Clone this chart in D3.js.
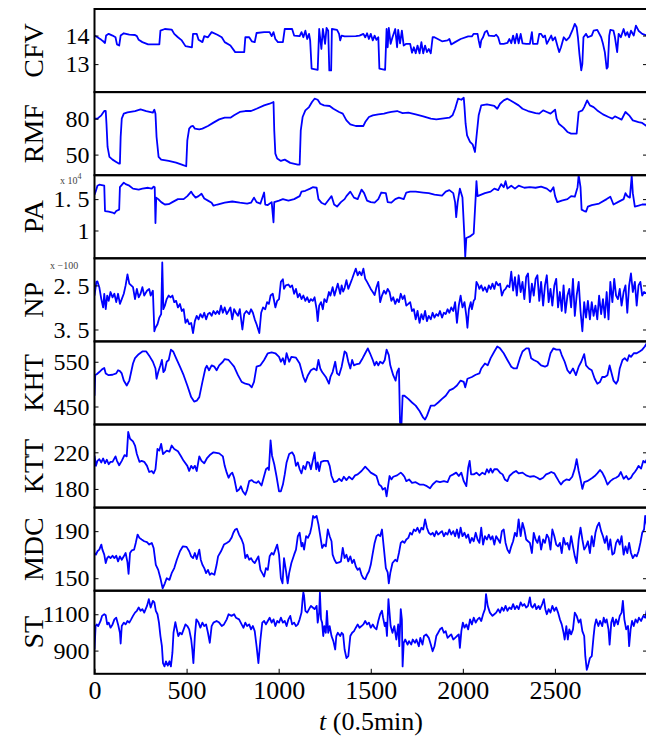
<!DOCTYPE html>
<html>
<head>
<meta charset="utf-8">
<script src="https://cdn.jsdelivr.net/npm/d3@7"></script>
<style>
  body { margin: 0; background: #fff; }
  svg { display: block; }
  text { font-family: "Liberation Serif", "DejaVu Serif", serif; }
</style>
</head>
<body>
<svg id="chart" width="646" height="737"></svg>
<script>
// each series: [t, value], t in units of 0.5 min
const cfv = [[0,14.00],[16,13.94],[37,13.85],[47,13.80],[57,13.74],[63,14.00],[77,14.06],[98,14.00],[114,13.94],[122,13.69],[134,13.65],[142,14.00],[159,14.08],[189,14.03],[220,14.02],[230,13.98],[240,13.85],[260,13.77],[291,13.69],[352,13.69],[358,14.17],[382,14.23],[419,14.21],[433,14.06],[453,13.94],[474,13.83],[494,13.63],[529,13.59],[535,14.06],[555,14.06],[565,13.85],[586,13.77],[596,13.98],[616,13.94],[636,14.12],[667,14.03],[691,13.94],[707,13.77],[738,13.65],[764,13.42],[813,13.42],[819,13.94],[840,13.94],[854,13.80],[870,13.77],[880,14.09],[921,14.12],[951,14.12],[962,13.98],[972,14.12],[982,13.88],[996,13.77],[1023,13.77],[1033,14.23],[1073,14.23],[1084,14.00],[1114,13.98],[1124,14.12],[1134,13.94],[1145,14.17],[1155,13.88],[1165,14.06],[1171,13.83],[1179,12.84],[1212,12.80],[1220,14.23],[1232,13.53],[1240,14.23],[1252,13.71],[1260,14.27],[1269,14.17],[1275,12.78],[1285,12.78],[1289,14.23],[1317,14.20],[1328,14.06],[1334,13.83],[1342,14.00],[1358,13.97],[1419,13.98],[1439,14.00],[1460,14.06],[1470,13.94],[1480,14.08],[1490,13.88],[1500,14.06],[1511,13.83],[1521,14.00],[1531,13.85],[1541,13.94],[1547,12.84],[1578,12.80],[1586,14.23],[1592,13.59],[1598,14.27],[1608,13.71],[1618,13.94],[1633,14.23],[1643,13.59],[1649,14.20],[1659,13.73],[1669,14.17],[1679,13.65],[1693,13.71],[1714,13.71],[1724,13.40],[1734,13.59],[1744,13.38],[1754,13.65],[1765,13.38],[1775,13.77],[1785,13.38],[1795,13.65],[1805,13.42],[1815,13.53],[1826,13.38],[1836,13.94],[1846,13.94],[1887,13.80],[1917,13.83],[1927,13.88],[1937,13.69],[1958,13.77],[1988,13.88],[2029,13.97],[2049,13.97],[2059,14.06],[2080,14.06],[2086,13.83],[2094,13.59],[2100,13.83],[2110,13.94],[2120,14.12],[2131,14.17],[2141,14.00],[2171,13.98],[2181,14.03],[2192,13.94],[2202,13.71],[2222,13.71],[2242,13.74],[2253,13.88],[2263,13.73],[2273,14.00],[2283,13.73],[2293,14.06],[2303,13.73],[2314,14.06],[2324,13.73],[2344,13.71],[2364,13.71],[2375,14.12],[2381,13.71],[2405,13.71],[2415,14.06],[2425,14.06],[2436,13.94],[2446,14.00],[2456,13.71],[2466,13.83],[2480,14.00],[2488,13.83],[2501,13.94],[2513,13.65],[2523,13.42],[2533,13.59],[2548,13.94],[2562,13.83],[2578,13.94],[2594,14.17],[2608,14.41],[2618,14.29],[2625,13.94],[2633,13.36],[2643,12.78],[2649,13.01],[2655,13.94],[2669,14.06],[2679,13.94],[2700,14.00],[2710,14.17],[2730,14.20],[2751,13.94],[2761,13.71],[2771,13.42],[2781,12.84],[2787,12.90],[2795,14.00],[2801,14.20],[2818,14.17],[2826,13.94],[2838,13.42],[2846,14.06],[2858,13.94],[2873,14.23],[2883,14.00],[2893,14.12],[2903,13.94],[2913,14.17],[2928,14.00],[2940,14.35],[2954,14.17],[2974,14.06],[3000,14.00]];

const rmf = [[0,80],[16,80],[37,82.8],[53,86.4],[61,86.4],[65,75.8],[71,56.4],[81,48.1],[98,45.8],[118,43.9],[132,42.5],[138,42.5],[142,64.7],[148,80],[159,84.2],[179,85.3],[220,86.4],[250,87.8],[281,86.4],[317,85.0],[325,87.5],[331,84.2],[337,64.7],[348,48.1],[362,45.8],[403,44.7],[443,43.3],[474,41.7],[498,40.3],[504,61.9],[514,71.7],[525,73.6],[535,73.9],[545,71.7],[569,71.1],[586,71.7],[616,73.9],[646,76.7],[677,79.4],[707,80.8],[738,80.8],[758,82.8],[789,85.6],[819,86.4],[850,86.4],[880,88.3],[921,91.1],[951,92.5],[972,93.9],[976,70.3],[982,50.8],[992,46.7],[1012,44.7],[1033,45.8],[1063,43.1],[1104,41.7],[1114,41.7],[1120,70.3],[1130,81.4],[1145,86.9],[1165,89.7],[1181,93.9],[1195,96.7],[1212,95.8],[1226,92.5],[1246,91.1],[1277,90.6],[1297,88.3],[1328,85.6],[1348,84.2],[1368,78.6],[1389,75.3],[1419,73.9],[1460,73.9],[1470,77.2],[1490,81.4],[1511,82.8],[1541,83.6],[1572,84.2],[1592,85.0],[1612,85.6],[1643,86.4],[1673,84.7],[1704,85.0],[1744,83.6],[1785,81.9],[1826,80],[1856,79.4],[1887,80],[1927,80.8],[1944,82.8],[1958,88.3],[1974,96.7],[1992,95.8],[2005,97.5],[2009,89.7],[2015,75.8],[2023,66.1],[2039,60.6],[2053,58.6],[2066,52.2],[2074,64.7],[2086,82.8],[2100,91.1],[2131,91.9],[2171,90.6],[2187,88.3],[2202,92.5],[2222,95.3],[2242,96.7],[2273,93.9],[2303,91.1],[2324,88.3],[2354,86.4],[2395,84.7],[2415,84.2],[2436,86.9],[2456,85.6],[2476,84.2],[2501,87.5],[2509,80],[2521,75.8],[2547,72.5],[2568,68.9],[2588,67.5],[2618,67.5],[2629,85.6],[2649,86.9],[2659,89.7],[2675,95.3],[2690,91.1],[2710,89.7],[2730,86.9],[2761,83.6],[2791,81.4],[2812,80],[2826,81.9],[2842,80.8],[2862,79.2],[2883,85.6],[2903,82.8],[2923,78.6],[2954,77.2],[2974,76.4],[3000,73.6]];

// PA in units of 1e4
const pa = [[0,1.571],[6,1.619],[16,1.714],[26,1.729],[53,1.714],[57,1.310],[77,1.300],[98,1.286],[108,1.271],[118,1.310],[134,1.333],[138,1.690],[159,1.762],[169,1.738],[189,1.714],[209,1.667],[240,1.652],[260,1.667],[291,1.681],[311,1.667],[321,1.700],[327,1.690],[331,1.119],[335,1.524],[346,1.5],[362,1.452],[382,1.414],[403,1.419],[423,1.452],[453,1.5],[484,1.5],[504,1.548],[525,1.619],[535,1.571],[549,1.524],[565,1.548],[581,1.586],[596,1.510],[616,1.476],[636,1.443],[646,1.395],[667,1.414],[707,1.443],[748,1.462],[789,1.443],[829,1.429],[850,1.443],[866,1.524],[880,1.452],[901,1.429],[921,1.605],[927,1.414],[941,1.405],[962,1.452],[972,1.129],[976,1.452],[1002,1.476],[1023,1.5],[1053,1.476],[1084,1.5],[1114,1.548],[1124,1.619],[1145,1.633],[1171,1.667],[1185,1.690],[1206,1.681],[1216,1.5],[1232,1.443],[1252,1.414],[1277,1.510],[1287,1.548],[1301,1.414],[1317,1.381],[1338,1.452],[1358,1.5],[1368,1.548],[1389,1.619],[1409,1.524],[1429,1.5],[1450,1.652],[1464,1.595],[1480,1.476],[1500,1.452],[1521,1.443],[1541,1.5],[1557,1.605],[1582,1.595],[1592,1.452],[1612,1.443],[1633,1.5],[1653,1.524],[1679,1.5],[1693,1.605],[1714,1.619],[1744,1.619],[1785,1.605],[1815,1.595],[1846,1.571],[1887,1.557],[1907,1.619],[1927,1.643],[1948,1.595],[1958,1.452],[1964,1.214],[1972,1.452],[1984,1.667],[1998,1.524],[2009,0.881],[2013,0.581],[2019,0.881],[2039,0.905],[2059,0.952],[2070,1.548],[2074,1.786],[2080,1.548],[2100,1.571],[2120,1.595],[2151,1.619],[2171,1.667],[2192,1.643],[2208,1.738],[2222,1.690],[2232,1.786],[2242,1.667],[2263,1.714],[2283,1.667],[2303,1.714],[2334,1.681],[2364,1.690],[2395,1.681],[2425,1.700],[2456,1.667],[2476,1.619],[2492,1.690],[2501,1.548],[2513,1.452],[2537,1.476],[2568,1.5],[2588,1.548],[2608,1.538],[2623,1.690],[2629,1.881],[2639,1.690],[2645,1.333],[2659,1.310],[2669,1.300],[2679,1.381],[2700,1.405],[2740,1.429],[2781,1.5],[2801,1.538],[2818,1.414],[2842,1.452],[2873,1.5],[2883,1.595],[2893,1.548],[2907,1.524],[2917,1.871],[2923,1.595],[2934,1.381],[2954,1.395],[2974,1.414],[3000,1.414]];

// NP in units of -100
const np = [[0,2.73],[10,2.42],[16,2.41],[26,2.54],[37,2.81],[47,3.00],[53,2.69],[61,3.04],[69,2.73],[77,2.85],[87,2.65],[98,2.77],[108,2.69],[118,2.88],[128,2.69],[138,2.92],[148,2.81],[159,2.69],[169,2.50],[179,2.25],[189,2.46],[199,2.50],[209,2.54],[220,2.81],[230,2.58],[240,2.77],[250,2.69],[260,2.54],[270,2.73],[285,2.62],[297,2.58],[305,2.73],[317,2.62],[325,3.54],[331,3.46],[342,3.38],[352,3.23],[362,3.15],[368,1.98],[374,3.04],[382,2.96],[392,2.81],[403,2.73],[413,2.77],[423,2.73],[433,2.88],[443,2.85],[453,3.00],[464,2.92],[474,3.08],[484,3.04],[494,3.35],[504,3.27],[514,3.38],[525,3.35],[535,3.58],[545,3.31],[555,3.19],[565,3.27],[575,3.15],[586,3.23],[596,3.12],[606,3.27],[616,3.15],[626,3.12],[636,3.19],[646,3.08],[657,3.15],[667,3.08],[677,3.15],[687,2.96],[697,3.12],[707,3.00],[718,3.15],[728,3.08],[738,3.00],[748,3.27],[758,3.04],[768,3.12],[779,3.19],[789,3.04],[803,3.50],[813,3.15],[825,3.08],[840,3.15],[850,3.04],[860,3.12],[870,3.27],[880,3.38],[895,3.58],[905,3.12],[915,3.00],[927,3.04],[937,2.88],[947,2.92],[956,2.73],[968,2.69],[982,3.00],[992,2.85],[1002,2.81],[1012,2.42],[1023,2.36],[1029,2.58],[1039,2.50],[1053,2.48],[1063,2.54],[1073,2.50],[1084,2.69],[1094,2.58],[1104,2.77],[1114,2.69],[1124,2.81],[1134,2.73],[1145,2.85],[1155,2.77],[1165,2.88],[1175,2.81],[1185,2.85],[1195,2.77],[1206,3.04],[1212,3.31],[1220,2.96],[1230,2.88],[1240,3.04],[1248,2.81],[1260,2.88],[1273,2.65],[1281,2.73],[1293,2.54],[1303,2.73],[1313,2.58],[1321,2.46],[1334,2.69],[1342,2.50],[1350,2.64],[1358,2.56],[1368,2.38],[1378,2.58],[1389,2.46],[1399,2.35],[1409,2.23],[1419,2.12],[1429,2.27],[1439,2.19],[1450,2.27],[1460,2.12],[1470,2.35],[1480,2.42],[1490,2.50],[1500,2.58],[1511,2.65],[1521,2.72],[1531,2.54],[1541,2.42],[1551,2.88],[1561,2.73],[1572,2.62],[1582,2.69],[1592,2.58],[1602,2.65],[1612,2.85],[1622,2.77],[1633,2.92],[1643,2.81],[1653,2.88],[1663,2.69],[1673,2.81],[1683,2.73],[1693,2.96],[1704,2.92],[1714,2.88],[1724,3.08],[1734,3.04],[1744,3.27],[1754,3.08],[1765,3.35],[1775,3.15],[1785,3.27],[1795,3.08],[1805,3.31],[1815,3.19],[1826,3.27],[1836,3.12],[1846,3.23],[1856,3.15],[1866,3.19],[1876,3.08],[1887,3.23],[1897,3.12],[1907,3.15],[1917,3.04],[1927,3.12],[1937,3.00],[1948,3.08],[1958,2.88],[1968,3.35],[1978,2.96],[1988,2.73],[1998,3.00],[2009,2.88],[2019,3.19],[2025,3.46],[2033,3.04],[2043,2.88],[2049,3.04],[2059,2.85],[2066,2.81],[2074,2.42],[2084,2.50],[2090,2.58],[2100,2.50],[2110,2.62],[2120,2.54],[2131,2.65],[2141,2.50],[2151,2.58],[2161,2.46],[2171,2.58],[2181,2.42],[2192,2.50],[2202,2.46],[2212,2.73],[2222,2.62],[2232,2.58],[2242,2.50],[2253,2.54],[2263,2.19],[2273,2.62],[2283,2.31],[2293,2.73],[2303,2.27],[2314,2.65],[2324,2.42],[2334,2.81],[2344,2.31],[2354,2.23],[2364,2.88],[2375,2.46],[2385,2.73],[2395,2.35],[2405,2.27],[2415,2.85],[2425,2.42],[2436,2.96],[2446,2.50],[2456,2.27],[2466,2.88],[2476,2.58],[2486,2.96],[2497,2.50],[2507,2.35],[2517,3.00],[2527,2.65],[2537,3.08],[2547,2.50],[2557,3.12],[2568,2.73],[2578,2.58],[2588,3.00],[2598,2.35],[2608,3.19],[2618,2.73],[2629,2.42],[2639,3.08],[2649,3.54],[2659,2.88],[2669,3.23],[2679,2.85],[2690,3.27],[2700,2.88],[2710,3.19],[2720,2.96],[2730,3.27],[2740,2.73],[2751,3.15],[2761,2.81],[2771,3.23],[2781,2.65],[2791,3.27],[2801,2.42],[2812,2.88],[2822,2.35],[2832,2.73],[2842,2.81],[2852,2.58],[2862,2.96],[2873,2.65],[2883,2.50],[2893,3.12],[2903,2.50],[2913,2.23],[2923,2.65],[2934,2.42],[2944,2.96],[2954,2.50],[2964,2.42],[2974,2.73],[2984,2.65],[3000,2.69]];

const kht = [[0,474],[4,521],[12,522],[26,527],[41,533],[53,536],[61,524],[77,520],[98,521],[118,524],[128,531],[138,529],[148,524],[159,508],[175,497],[189,508],[199,527],[209,546],[220,558],[240,567],[260,573],[281,573],[301,561],[317,550],[331,535],[337,512],[346,527],[358,542],[366,554],[374,527],[382,531],[392,550],[403,554],[415,577],[427,573],[443,558],[464,539],[484,520],[504,497],[525,471],[541,461],[555,463],[569,471],[586,505],[602,535],[610,541],[622,531],[636,542],[651,539],[663,531],[677,542],[697,550],[707,556],[728,554],[744,546],[758,539],[779,520],[799,505],[819,501],[840,499],[854,493],[866,505],[880,539],[901,542],[921,554],[941,569],[962,571],[982,569],[1002,561],[1012,550],[1023,558],[1033,544],[1043,569],[1057,550],[1069,561],[1094,559],[1114,546],[1134,516],[1145,505],[1159,520],[1175,531],[1191,535],[1206,531],[1216,554],[1226,535],[1236,527],[1256,516],[1273,501],[1281,516],[1293,527],[1307,550],[1317,524],[1328,520],[1342,539],[1358,573],[1368,569],[1378,550],[1389,535],[1399,554],[1409,542],[1419,544],[1439,546],[1456,558],[1470,569],[1484,580],[1496,569],[1511,554],[1521,542],[1531,550],[1541,542],[1551,550],[1565,546],[1576,554],[1586,577],[1598,565],[1606,542],[1622,520],[1635,508],[1643,527],[1653,535],[1659,414],[1667,412],[1673,474],[1683,474],[1704,467],[1724,459],[1744,452],[1765,440],[1785,425],[1795,421],[1805,429],[1826,452],[1846,452],[1866,459],[1887,467],[1907,474],[1927,486],[1948,490],[1968,497],[1988,508],[2005,505],[2013,493],[2025,512],[2049,516],[2070,521],[2090,524],[2100,535],[2120,546],[2135,542],[2151,558],[2171,573],[2187,584],[2202,580],[2222,569],[2242,554],[2263,539],[2277,535],[2293,535],[2310,558],[2324,573],[2344,580],[2358,580],[2371,558],[2385,554],[2405,550],[2425,542],[2446,539],[2460,542],[2476,569],[2492,580],[2507,577],[2527,577],[2537,565],[2553,550],[2568,531],[2582,524],[2598,535],[2614,520],[2629,539],[2643,550],[2659,567],[2669,542],[2684,535],[2700,531],[2716,512],[2730,501],[2745,505],[2757,516],[2771,516],[2785,520],[2797,542],[2806,527],[2818,508],[2832,501],[2842,508],[2852,535],[2867,554],[2879,558],[2893,552],[2903,565],[2913,561],[2928,569],[2944,569],[2960,573],[2974,577],[2988,584],[3000,592]];

const ktt = [[0,216.3],[8,205.2],[16,210.7],[26,212.6],[37,208.9],[47,213.3],[57,208.1],[67,211.9],[77,207.0],[87,209.6],[98,209.6],[114,215.6],[122,210.7],[134,205.9],[148,210.7],[163,217.0],[175,215.6],[183,242.2],[193,234.8],[209,231.9],[220,227.4],[230,218.1],[244,209.6],[256,210.7],[270,209.6],[285,205.2],[297,198.5],[311,199.6],[321,197.0],[331,201.5],[342,223.7],[352,221.9],[362,229.3],[372,218.1],[382,220],[392,221.9],[407,220.7],[419,227.4],[433,223.7],[453,221.1],[468,216.3],[484,210.7],[504,205.2],[514,199.6],[525,205.2],[535,202.2],[545,205.2],[555,199.6],[569,215.6],[581,210.7],[596,208.1],[610,213.3],[626,217.0],[646,220],[677,218.9],[697,215.6],[707,205.2],[718,197.8],[728,192.2],[738,195.9],[748,197.8],[758,192.2],[773,177.4],[785,179.3],[795,183.0],[805,177.4],[819,173.7],[829,179.3],[840,188.5],[854,189.6],[866,187.4],[880,186.7],[890,188.5],[907,183.7],[921,194.1],[931,201.5],[941,203.3],[947,200.7],[956,233.0],[964,216.3],[976,207.0],[988,194.1],[1002,177.4],[1012,177.4],[1023,184.8],[1033,195.9],[1043,208.9],[1057,218.1],[1073,220],[1084,216.3],[1094,205.2],[1104,208.9],[1114,201.5],[1124,197.0],[1134,205.2],[1145,201.5],[1155,209.6],[1165,208.9],[1175,201.5],[1185,210.7],[1195,220],[1204,201.5],[1212,208.9],[1220,199.6],[1230,209.6],[1246,210.7],[1267,210.7],[1277,205.2],[1287,194.1],[1301,187.4],[1317,188.5],[1328,191.1],[1342,188.5],[1354,193.3],[1368,189.6],[1382,193.3],[1399,190.4],[1415,194.8],[1429,195.9],[1450,199.6],[1470,204.4],[1484,201.5],[1500,197.8],[1517,195.9],[1531,194.1],[1545,184.8],[1557,183.0],[1565,179.3],[1578,181.1],[1586,171.9],[1594,183.0],[1602,194.1],[1612,190.4],[1622,193.3],[1643,194.8],[1663,197.8],[1673,195.9],[1683,193.3],[1693,188.5],[1708,190.4],[1724,186.7],[1744,187.4],[1765,184.8],[1785,184.8],[1805,183.0],[1822,180.7],[1836,184.8],[1856,188.5],[1876,187.4],[1897,188.5],[1917,187.4],[1931,194.1],[1948,195.9],[1964,197.8],[1978,194.1],[1992,197.8],[2005,188.5],[2019,183.0],[2029,203.3],[2037,210.7],[2045,195.9],[2059,195.9],[2074,197.8],[2090,194.8],[2106,197.8],[2120,195.9],[2131,201.5],[2141,197.8],[2151,202.2],[2161,197.8],[2171,201.5],[2187,201.5],[2202,197.8],[2216,195.9],[2228,190.4],[2242,188.5],[2253,194.1],[2273,197.8],[2289,199.6],[2303,197.0],[2324,197.8],[2344,194.8],[2364,193.3],[2385,194.1],[2405,192.2],[2419,190.4],[2436,192.2],[2452,195.9],[2466,197.0],[2480,198.5],[2497,197.0],[2507,193.3],[2521,188.5],[2533,184.8],[2547,188.5],[2562,190.4],[2578,189.6],[2594,193.3],[2608,202.2],[2618,212.6],[2629,199.6],[2639,190.4],[2649,180.0],[2659,187.4],[2675,188.5],[2690,190.4],[2704,192.2],[2716,194.1],[2730,197.0],[2745,200.7],[2757,197.8],[2771,192.2],[2785,184.8],[2801,188.5],[2818,191.1],[2832,192.2],[2846,194.1],[2858,198.5],[2873,191.1],[2887,194.1],[2899,190.4],[2913,192.2],[2923,195.9],[2934,198.5],[2944,201.5],[2954,205.2],[2968,202.2],[2980,210.7],[2990,208.9],[3000,212.6]];

const mdc = [[0,171.4],[8,170],[16,172.9],[26,174.3],[37,178.6],[43,174.3],[53,170],[61,162.9],[69,167.1],[77,168.6],[87,167.1],[98,169.1],[108,167.1],[118,169.1],[128,164.3],[138,168.6],[148,165.7],[159,168.6],[169,171.4],[179,163.4],[185,153.7],[193,171.4],[203,173.7],[215,174.3],[224,180],[234,187.1],[244,184.3],[256,182.9],[270,181.4],[285,180.6],[297,178.6],[311,180],[321,175.7],[333,161.4],[346,157.1],[358,150],[370,141.4],[382,145.7],[392,150],[407,148.6],[419,154.3],[433,158.6],[447,165.7],[464,172.9],[480,177.1],[500,176.6],[514,172.9],[525,168.6],[535,167.1],[545,171.4],[555,166.3],[569,174.3],[577,165.7],[586,161.4],[596,158.6],[606,154.3],[616,157.1],[626,152.9],[636,154.3],[651,152.9],[663,161.4],[671,168.6],[687,172.9],[703,178.6],[718,180],[732,181.4],[744,184.3],[754,188.6],[764,191.4],[773,192.0],[785,187.1],[799,182.9],[809,178.6],[819,167.1],[829,170],[840,165.7],[850,167.1],[860,164.3],[870,162.9],[880,165.7],[890,168.6],[901,157.1],[911,154.3],[921,151.4],[931,158.6],[941,157.1],[951,168.6],[962,171.4],[972,170],[982,174.3],[992,178.6],[1002,170],[1012,150],[1021,145.7],[1029,167.1],[1039,157.1],[1049,145.7],[1057,154.3],[1069,162.9],[1084,170],[1094,174.3],[1104,185.7],[1114,188.6],[1124,177.1],[1130,180],[1138,174.3],[1149,185.7],[1159,184.3],[1171,188.6],[1179,194.3],[1187,202.9],[1195,201.4],[1206,202.9],[1216,195.7],[1226,185.7],[1236,175.7],[1246,178.6],[1256,177.1],[1267,191.4],[1277,185.7],[1287,181.4],[1293,170],[1303,165.7],[1313,162.9],[1328,163.4],[1338,164.3],[1348,175.7],[1358,167.1],[1368,170],[1378,164.3],[1389,168.6],[1399,162.9],[1409,165.7],[1419,160],[1429,157.1],[1439,158.6],[1450,152.9],[1460,150],[1470,149.1],[1480,152.9],[1490,155.7],[1500,161.4],[1511,171.4],[1521,180],[1531,185.7],[1541,187.1],[1551,185.7],[1561,191.4],[1572,174.3],[1582,158.6],[1592,154.9],[1598,145.7],[1606,154.3],[1618,162.9],[1633,165.7],[1643,164.3],[1653,171.4],[1663,180],[1673,181.4],[1683,180],[1693,182.9],[1704,184.3],[1714,188.6],[1724,187.1],[1734,191.4],[1744,190],[1754,192.9],[1765,188.6],[1775,192.9],[1785,191.4],[1795,200],[1805,192.9],[1815,188.6],[1826,187.1],[1836,188.6],[1846,185.7],[1856,190],[1866,187.1],[1876,188.6],[1887,190],[1897,185.7],[1907,188.6],[1917,187.1],[1927,191.4],[1937,187.1],[1948,190],[1958,185.7],[1968,191.4],[1978,184.3],[1988,192.9],[1998,185.7],[2009,188.6],[2019,184.3],[2029,187.1],[2039,180],[2049,184.3],[2059,181.4],[2070,188.6],[2080,182.9],[2090,180],[2100,192.9],[2110,178.6],[2120,185.7],[2131,182.9],[2141,187.1],[2151,182.9],[2161,185.7],[2171,178.6],[2181,185.7],[2192,182.9],[2202,180],[2212,190],[2222,191.4],[2232,180],[2242,174.3],[2253,171.4],[2263,177.1],[2273,181.4],[2283,188.6],[2293,185.7],[2303,200],[2314,185.7],[2324,197.1],[2334,191.4],[2344,182.9],[2354,181.4],[2364,180],[2375,171.4],[2385,188.6],[2395,182.9],[2405,180],[2415,185.7],[2425,174.3],[2436,182.9],[2446,180],[2456,187.1],[2466,184.3],[2476,174.3],[2486,191.4],[2497,185.7],[2507,178.6],[2517,177.1],[2527,180],[2537,171.4],[2547,184.3],[2557,178.6],[2568,180],[2578,174.3],[2588,185.7],[2598,177.1],[2608,168.6],[2618,162.9],[2629,182.9],[2639,192.9],[2649,182.9],[2659,174.3],[2669,177.1],[2679,181.4],[2690,171.4],[2700,185.7],[2710,177.1],[2720,188.6],[2730,194.3],[2740,197.1],[2751,190],[2761,185.7],[2771,180],[2781,185.7],[2791,174.3],[2801,182.9],[2812,170],[2822,171.4],[2832,180],[2842,182.9],[2852,178.6],[2862,185.7],[2873,170],[2883,177.1],[2893,171.4],[2903,180],[2913,171.4],[2923,167.1],[2934,170],[2944,168.6],[2954,172.9],[2964,180],[2974,188.6],[2984,191.4],[2990,202.9],[3000,194.3]];

const st = [[0,906],[6,1035],[12,1044],[20,1035],[33,1063],[41,1091],[53,1100],[61,1094],[69,1044],[77,1054],[87,1026],[98,1044],[108,1072],[118,1081],[128,1044],[138,998],[142,939],[148,1035],[159,1054],[169,1044],[179,1063],[189,1054],[199,1072],[209,1091],[220,1109],[230,1119],[240,1137],[250,1119],[260,1128],[270,1109],[285,1146],[295,1183],[305,1137],[317,1174],[325,1165],[333,1119],[342,1100],[350,1054],[358,980],[366,924],[372,831],[380,813],[388,841],[398,817],[407,841],[415,813],[423,887],[429,998],[439,1057],[447,1017],[455,980],[464,998],[474,989],[484,1017],[494,1044],[504,1035],[514,1017],[525,961],[531,906],[537,831],[545,980],[553,1072],[565,1054],[575,1026],[586,1054],[596,1035],[606,1044],[616,998],[626,943],[636,1035],[646,1054],[663,1063],[677,1054],[691,1035],[703,1044],[718,1072],[728,1100],[744,1091],[758,1100],[768,1081],[785,1072],[799,1044],[809,1026],[819,1054],[829,1035],[840,1044],[850,1017],[860,1035],[870,1007],[880,924],[890,831],[901,961],[911,1054],[921,1063],[931,1044],[941,1063],[951,1081],[962,1054],[972,1072],[982,1035],[992,1063],[1002,1054],[1012,1081],[1023,1054],[1033,1063],[1043,1035],[1053,1072],[1063,1091],[1073,1044],[1084,1054],[1094,1035],[1104,1044],[1114,1072],[1124,1109],[1130,1183],[1134,1220],[1138,1202],[1145,1119],[1155,1109],[1165,1128],[1175,1146],[1185,1137],[1195,1128],[1206,1146],[1212,1054],[1220,1109],[1224,1220],[1230,1072],[1236,1054],[1242,980],[1248,1035],[1256,998],[1262,1119],[1269,998],[1277,1035],[1287,980],[1297,952],[1307,906],[1313,980],[1321,998],[1334,980],[1342,998],[1350,989],[1358,906],[1368,859],[1378,869],[1389,980],[1399,998],[1409,1007],[1419,1026],[1429,1044],[1439,1026],[1450,1035],[1460,1044],[1470,1063],[1480,1044],[1490,1054],[1500,1026],[1511,1044],[1521,1026],[1531,1017],[1541,1063],[1551,1100],[1561,1119],[1567,1081],[1576,1035],[1582,1054],[1588,980],[1596,1183],[1602,1109],[1608,1035],[1618,998],[1628,1035],[1639,961],[1649,1044],[1655,924],[1663,1128],[1669,1072],[1673,813],[1679,943],[1687,961],[1700,933],[1708,952],[1720,933],[1728,961],[1740,943],[1748,961],[1761,924],[1769,970],[1781,933],[1789,980],[1801,989],[1815,970],[1826,933],[1836,896],[1846,924],[1856,980],[1866,998],[1876,1017],[1887,1026],[1897,998],[1907,1007],[1917,970],[1927,980],[1937,989],[1948,961],[1958,970],[1968,980],[1978,989],[1984,915],[1992,1007],[2000,1054],[2009,1026],[2019,1044],[2029,1017],[2039,1072],[2049,1044],[2059,1081],[2070,1054],[2080,1072],[2090,1081],[2100,1063],[2110,1100],[2120,1128],[2126,1211],[2135,1146],[2147,1109],[2161,1091],[2171,1100],[2181,1109],[2192,1128],[2202,1109],[2212,1137],[2222,1119],[2232,1146],[2242,1119],[2253,1137],[2263,1128],[2273,1156],[2283,1128],[2293,1146],[2303,1128],[2314,1165],[2324,1146],[2334,1156],[2344,1137],[2354,1146],[2364,1193],[2371,1146],[2379,1137],[2391,1156],[2399,1128],[2411,1146],[2419,1128],[2431,1156],[2440,1183],[2448,1128],[2456,1100],[2466,1128],[2476,1109],[2486,1146],[2497,1119],[2507,1137],[2517,1109],[2527,1072],[2537,1044],[2547,998],[2553,961],[2562,1035],[2570,961],[2578,1017],[2588,989],[2598,1017],[2608,1109],[2618,1091],[2629,1054],[2639,1072],[2649,1007],[2659,980],[2665,869],[2673,794],[2679,813],[2690,859],[2700,869],[2710,980],[2716,1035],[2724,1072],[2736,1035],[2745,1063],[2757,1035],[2765,1081],[2773,1054],[2781,1072],[2791,1017],[2797,933],[2806,1054],[2814,1081],[2822,1035],[2832,1072],[2842,1044],[2852,1091],[2862,1109],[2869,1174],[2877,1072],[2887,1017],[2897,1035],[2903,924],[2911,1017],[2919,1063],[2928,1035],[2938,1072],[2948,1054],[2956,1081],[2968,1063],[2980,1091],[2990,1081],[3000,1128]];

const names = ["CFV", "RMF", "PA", "NP", "KHT", "KTT", "MDC", "ST"];
const series = [cfv, rmf, pa, np, kht, ktt, mdc, st];
// value at top edge / bottom edge of each panel (NP runs downward)
const yTopVal = [14.93, 102.2, 1.881, 1.885, 595.5, 250.4, 210, 1229.6];
const yBotVal = [12.02, 32.8, 0.557, 3.77, 409.8, 159.6, 139.4, 772.2];
const yTicks = [[13, 14], [50, 80], [1, 1.5], [2.5, 3.5], [450, 550], [180, 220], [150, 190], [900, 1100]];
const yTickText = [["13", "14"], ["50", "80"], ["1", "1. 5"], ["2. 5", "3. 5"], ["450", "550"], ["180", "220"], ["150", "190"], ["900", "1100"]];
const xTicks = [0, 500, 1000, 1500, 2000, 2500];

const svg = d3.select("#chart");
const left = 94.5, right = 647, top0 = 9, panelH = 83.1;
const x = d3.scaleLinear().domain([0, 3000]).range([left, right]);

names.forEach((name, i) => {
  const y0 = top0 + i * panelH, y1 = y0 + panelH;
  const y = d3.scaleLinear().domain([yTopVal[i], yBotVal[i]]).range([y0, y1]);
  const g = svg.append("g");

  g.append("clipPath").attr("id", "clip" + i)
    .append("rect").attr("x", left).attr("y", y0).attr("width", right - left).attr("height", panelH);

  const line = d3.line().x(d => x(d[0])).y(d => y(d[1]));
  g.append("path")
    .datum(series[i])
    .attr("clip-path", "url(#clip" + i + ")")
    .attr("fill", "none")
    .attr("stroke", "#0000ff")
    .attr("stroke-width", 1.8)
    .attr("stroke-linejoin", "round")
    .attr("d", line);

  // inward ticks, labels on the left
  const ax = g.append("g").attr("transform", `translate(${left},0)`)
    .call(d3.axisLeft(y).tickValues(yTicks[i]).tickSizeInner(-4).tickSizeOuter(0).tickPadding(5)
      .tickFormat((d, k) => yTickText[i][k]));
  ax.select(".domain").remove();
  ax.selectAll("line").attr("stroke", "#000");
  ax.selectAll("text").attr("font-size", 24).attr("font-family", "Liberation Serif").attr("fill", "#000");

  const axR = g.append("g").attr("transform", `translate(${right},0)`)
    .call(d3.axisRight(y).tickValues(yTicks[i]).tickSizeInner(-4).tickSizeOuter(0).tickFormat(""));
  axR.select(".domain").remove();

  g.append("rect")
    .attr("x", left).attr("y", y0).attr("width", right - left).attr("height", panelH)
    .attr("fill", "none").attr("stroke", "#000").attr("stroke-width", 2);

  g.append("text")
    .attr("transform", `translate(43,${(y0 + y1) / 2}) rotate(-90)`)
    .attr("text-anchor", "middle")
    .attr("font-size", 28)
    .text(name);
});

// multiplier notes for PA and NP
const paNote = svg.append("text").attr("x", 60).attr("y", 184).attr("font-size", 10).attr("fill", "#444");
paNote.append("tspan").text("x  10");
paNote.append("tspan").attr("dy", -5).attr("font-size", 8).text("4");
svg.append("text").attr("x", 50).attr("y", 269).attr("font-size", 10).attr("fill", "#444").text("x  \u2212100");

// bottom axis
const bottom = top0 + 8 * panelH;
const xa = svg.append("g").attr("transform", `translate(0,${bottom})`)
  .call(d3.axisBottom(x).tickValues(xTicks).tickSizeInner(-5).tickSizeOuter(0).tickPadding(7)
    .tickFormat(d3.format("d")));
xa.select(".domain").remove();
xa.selectAll("text").attr("font-size", 26).attr("font-family", "Liberation Serif").attr("fill", "#000");

const xt = svg.append("text")
  .attr("x", 371).attr("y", 730)
  .attr("text-anchor", "middle")
  .attr("font-size", 26);
xt.append("tspan").attr("font-style", "italic").text("t");
xt.append("tspan").text(" (0.5min)");
</script>
</body>
</html>
